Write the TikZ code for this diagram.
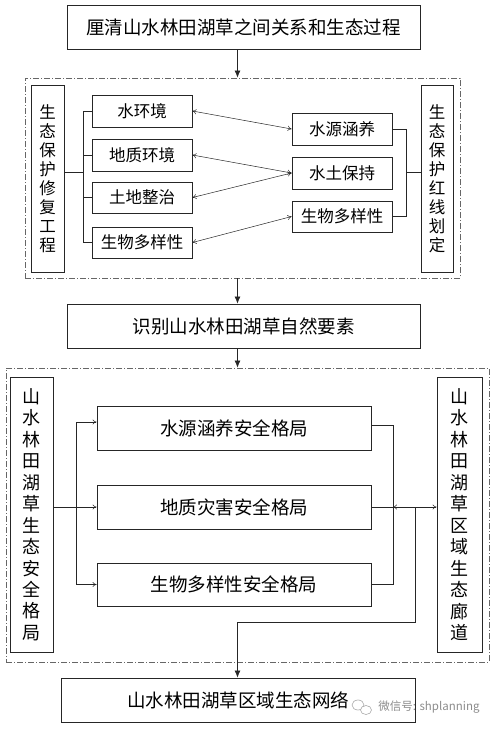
\documentclass[tikz,border=0pt]{standalone}
\usepackage{fontspec}
\setmainfont{Noto Sans CJK SC}
\usetikzlibrary{arrows.meta}
\begin{document}
\begin{tikzpicture}[x=1pt,y=-1pt,
  box/.style={draw=black!85, line width=0.8pt, inner sep=0pt, align=center},
  bigtxt/.style={font=\fontsize{18.5}{22}\selectfont},
  smtxt/.style={font=\fontsize{16.5}{19}\selectfont},
  vtxt/.style={font=\fontsize{16.5}{19}\selectfont},
  vtxtb/.style={font=\fontsize{18}{21.5}\selectfont},
  dashbox/.style={draw=black!60, line width=0.8pt, dash pattern=on 6pt off 2pt on 1pt off 2pt},
  link/.style={draw=black!85, line width=0.7pt},
  mainarrow/.style={link, -{Latex[length=7pt,width=6pt]}},
  thinarrow/.style={link, line width=0.5pt, -{To[length=4pt,width=5pt]}},
  dblarrow/.style={link, line width=0.5pt, {To[length=4pt,width=5pt]}-{To[length=4pt,width=5pt]}}
]
\useasboundingbox (0,0) rectangle (496,729);
\coordinate (ax) at (237.5,0);
% top part
\node[box, bigtxt, minimum width=353pt, minimum height=44pt] (top) at (243.5,27) {厘清山水林田湖草之间关系和生态过程};
\node[dashbox, minimum width=435pt, minimum height=200pt] (dash1) at (242.5,178) {};
\node[box, vtxt, minimum width=33pt, minimum height=187pt] (lv1) at (47.5,178.5) {生\\态\\保\\护\\修\\复\\工\\程};
\node[box, vtxt, minimum width=32pt, minimum height=187pt] (rv1) at (437,178.5) {生\\态\\保\\护\\红\\线\\划\\定};
\node[box, smtxt, minimum width=100pt, minimum height=32pt] (L1) at (142,111) {水环境};
\node[box, smtxt, minimum width=100pt, minimum height=32pt] (L2) at (142,155) {地质环境};
\node[box, smtxt, minimum width=100pt, minimum height=31pt] (L3) at (142,197.5) {土地整治};
\node[box, smtxt, minimum width=100pt, minimum height=31pt] (L4) at (142,242.5) {生物多样性};
\node[box, smtxt, minimum width=100pt, minimum height=32pt] (R1) at (342,129) {水源涵养};
\node[box, smtxt, minimum width=100pt, minimum height=32pt] (R2) at (342,173) {水土保持};
\node[box, smtxt, minimum width=100pt, minimum height=31pt] (R3) at (342,216.5) {生物多样性};
\coordinate (bL) at (83,172);
\coordinate (bR) at (406,172);
\draw[link] (lv1.east |- bL) -- (bL);
\draw[link] (L1.west) -- (L1.west -| bL) -- (L4.west -| bL) -- (L4.west);
\draw[link] (L2.west) -- (L2.west -| bL);
\draw[link] (L3.west) -- (L3.west -| bL);
\draw[link] (R1.east) -- (R1.east -| bR) -- (R3.east -| bR) -- (R3.east);
\draw[link] (bR) -- (rv1.west |- bR);
\draw[dblarrow] (L1.east) -- (R1.west);
\draw[dblarrow] (L2.east) -- (R2.west);
\draw[dblarrow] (L3.east) -- (R2.west);
\draw[dblarrow] (L4.east) -- (R3.west);
% middle
\node[box, bigtxt, minimum width=353pt, minimum height=44pt] (mid) at (243.5,326) {识别山水林田湖草自然要素};
\draw[mainarrow] (top.south -| ax) -- (dash1.north -| ax);
\draw[mainarrow] (dash1.south -| ax) -- (mid.north -| ax);
% lower part
\node[dashbox, minimum width=483pt, minimum height=294pt] (dash2) at (247.5,515) {};
\draw[mainarrow] (mid.south -| ax) -- (dash2.north -| ax);
\node[box, vtxtb, minimum width=43pt, minimum height=275pt] (lv2) at (31.5,514.5) {山\\水\\林\\田\\湖\\草\\生\\态\\安\\全\\格\\局};
\node[box, vtxtb, minimum width=45pt, minimum height=275pt] (rv2) at (459.5,514.5) {山\\水\\林\\田\\湖\\草\\区\\域\\生\\态\\廊\\道};
\node[box, bigtxt, minimum width=274pt, minimum height=44pt] (M1) at (234,428) {水源涵养安全格局};
\node[box, bigtxt, minimum width=274pt, minimum height=44pt] (M2) at (234,507) {地质灾害安全格局};
\node[box, bigtxt, minimum width=274pt, minimum height=43pt] (M3) at (234,584.5) {生物多样性安全格局};
\coordinate (bl2) at (76,0);
\coordinate (br2) at (393,0);
\coordinate (bn) at (415,622);
\draw[link] ([yshift=6pt]M1.west -| bl2) -- (M3.west -| bl2);
\draw[thinarrow] ([yshift=6pt]M1.west -| bl2) -- ([yshift=6pt]M1.west);
\draw[thinarrow] (M3.west -| bl2) -- (M3.west);
\draw[thinarrow] (lv2.east |- M2.west) -- (M2.west);
\draw[link] ([yshift=3pt]M1.east) -- ([yshift=3pt]M1.east -| br2) -- (M3.east -| br2) -- (M3.east);
\draw[link] (M2.east) -- (M2.east -| br2);
\draw[dblarrow] (M2.east -| br2) -- (rv2.west |- M2.east);
\node[box, bigtxt, minimum width=354pt, minimum height=44pt] (fin) at (238,700) {山水林田湖草区域生态网络};
\draw[link] (bn |- M2.east) -- (bn) -- (bn -| ax);
\draw[mainarrow] (bn -| ax) -- (fin.north -| ax);
% watermark
\node[text=black!45, font=\fontsize{11.5}{13}\selectfont, inner sep=0pt] (wm) at (429,707) {微信号: shplanning};
\draw[black!35, line width=0.6pt] (358,705) ellipse (6pt and 5pt);
\draw[black!35, line width=0.6pt, fill=white] (366,710) ellipse (5.5pt and 4.5pt);
\end{tikzpicture}
\end{document}
